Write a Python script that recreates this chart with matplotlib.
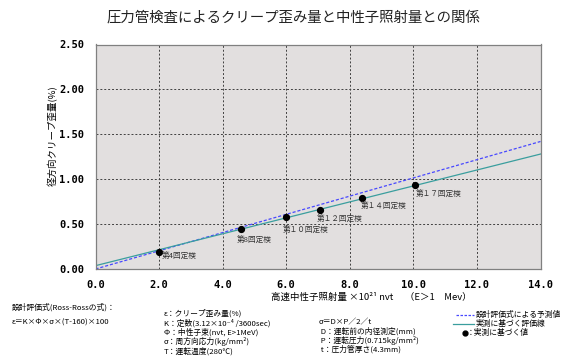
import numpy as np
import matplotlib
matplotlib.use('Agg')
import matplotlib.pyplot as plt
from matplotlib.lines import Line2D

plt.rcParams['font.family'] = ['Noto Sans CJK JP', 'DejaVu Sans']

# measured creep strain at each periodic inspection
fluence = [2.0, 4.59, 5.98, 7.05, 8.37, 10.06]
strain = [0.19, 0.445, 0.58, 0.66, 0.787, 0.935]
labels = ['第4回定検', '第8回定検', '第１０回定検', '第１２回定検', '第１４回定検', '第１７回定検']
label_offsets = [(3, -5), (-5, -12), (-3, -14), (-3, -10), (-1, -9), (0, -10)]

# design formula prediction and fit to measurements
design_x = [0.0, 14.0]
design_y = [0.0, 1.42]
fit_x = [0.0, 14.0]
fit_y = [0.037, 1.28]

xticks = [0, 2, 4, 6, 8, 10, 12, 14]
yticks = [0.0, 0.5, 1.0, 1.5, 2.0, 2.5]

W, H = 574, 364
fig = plt.figure(figsize=(W / 100, H / 100), dpi=100)
ax = fig.add_axes([95.5 / W, 1 - 269 / H, 445 / W, 224.5 / H])
ax.set_facecolor('#e2dfdf')

ax.plot(design_x, design_y, color='#4848ff', linestyle=(0, (2.5, 1.5)), linewidth=0.9)
ax.plot(fit_x, fit_y, color='#3a9e9e', linewidth=0.9)
ax.plot(fluence, strain, 'o', color='black', markersize=4.2)

for x, y, lab, off in zip(fluence, strain, labels, label_offsets):
    ax.annotate(lab, (x, y), xytext=off, textcoords='offset pixels',
                fontsize=5.5, color='#333333', ha='left', va='center')

ax.set_xlim(0, 14)
ax.set_ylim(0, 2.5)
ax.set_xticks(xticks)
ax.set_yticks(yticks)
ax.set_xticklabels(['%.1f' % v for v in xticks], family='DejaVu Sans Mono',
                   fontweight='bold', fontsize=7.5)
ax.set_yticklabels(['%.2f' % v for v in yticks], family='DejaVu Sans Mono',
                   fontweight='bold', fontsize=7.5)
ax.tick_params(length=0, pad=8)
ax.grid(True, color='#404040', linestyle=(0, (2, 2)), linewidth=0.7)
for s in ax.spines.values():
    s.set_color('#808080')
    s.set_linewidth(0.9)


def px(x, y):
    return x / W, 1 - y / H


fig.text(*px(293, 18), '圧力管検査によるクリープ歪み量と中性子照射量との関係',
         fontsize=10.4, ha='center', va='center', color='#222222')
fig.text(*px(53, 136), '径方向クリープ歪量(%)', rotation=90, fontsize=6.8,
         ha='center', va='center')
fig.text(*px(371, 297), '高速中性子照射量 ×10²¹ nvt　 （E＞1　Mev）',
         fontsize=6.8, ha='center', va='center')

small = 5.6
fig.text(*px(12, 307), '設計評価式(Ross-Rossの式)：', fontsize=small, va='center')
fig.text(*px(12, 323), 'ε＝K×Φ×σ×(T-160)×100', fontsize=small, va='center')

col2 = ['ε：クリープ歪み量(%)', 'K：定数(3.12×10⁻⁴ /3600sec)',
        'Φ：中性子束(nvt, E>1MeV)', 'σ：周方向応力(kg/mm²)', 'T：運転温度(280℃)']
for i, t in enumerate(col2):
    fig.text(*px(164, 313.5 + 9.5 * i), t, fontsize=small, va='center')

col3 = ['σ＝D×P／2／t', ' D：運転前の内径測定(mm)', ' P：運転圧力(0.715kg/mm²)',
        ' t：圧力管厚さ(4.3mm)']
for i, t in enumerate(col3):
    fig.text(*px(319, 322.5 + 8.8 * i), t, fontsize=small, va='center')

# legend drawn by hand
fig.add_artist(Line2D([456 / W, 474 / W], [1 - 315 / H] * 2, color='#4848ff',
                      linestyle=(0, (2, 1.2)), linewidth=0.9))
fig.add_artist(Line2D([453 / W, 474 / W], [1 - 324 / H] * 2, color='#3a9e9e',
                      linewidth=0.9))
fig.add_artist(Line2D([465 / W], [1 - 333 / H], marker='o', color='black',
                      markersize=3.5, linestyle='none'))
fig.text(*px(476, 315), '設計評価式による予測値', fontsize=small, va='center')
fig.text(*px(476, 324), '実測に基づく評価線', fontsize=small, va='center')
fig.text(*px(467, 333), '：実測に基づく値', fontsize=small, va='center')

fig.savefig('out.png', dpi=100)
